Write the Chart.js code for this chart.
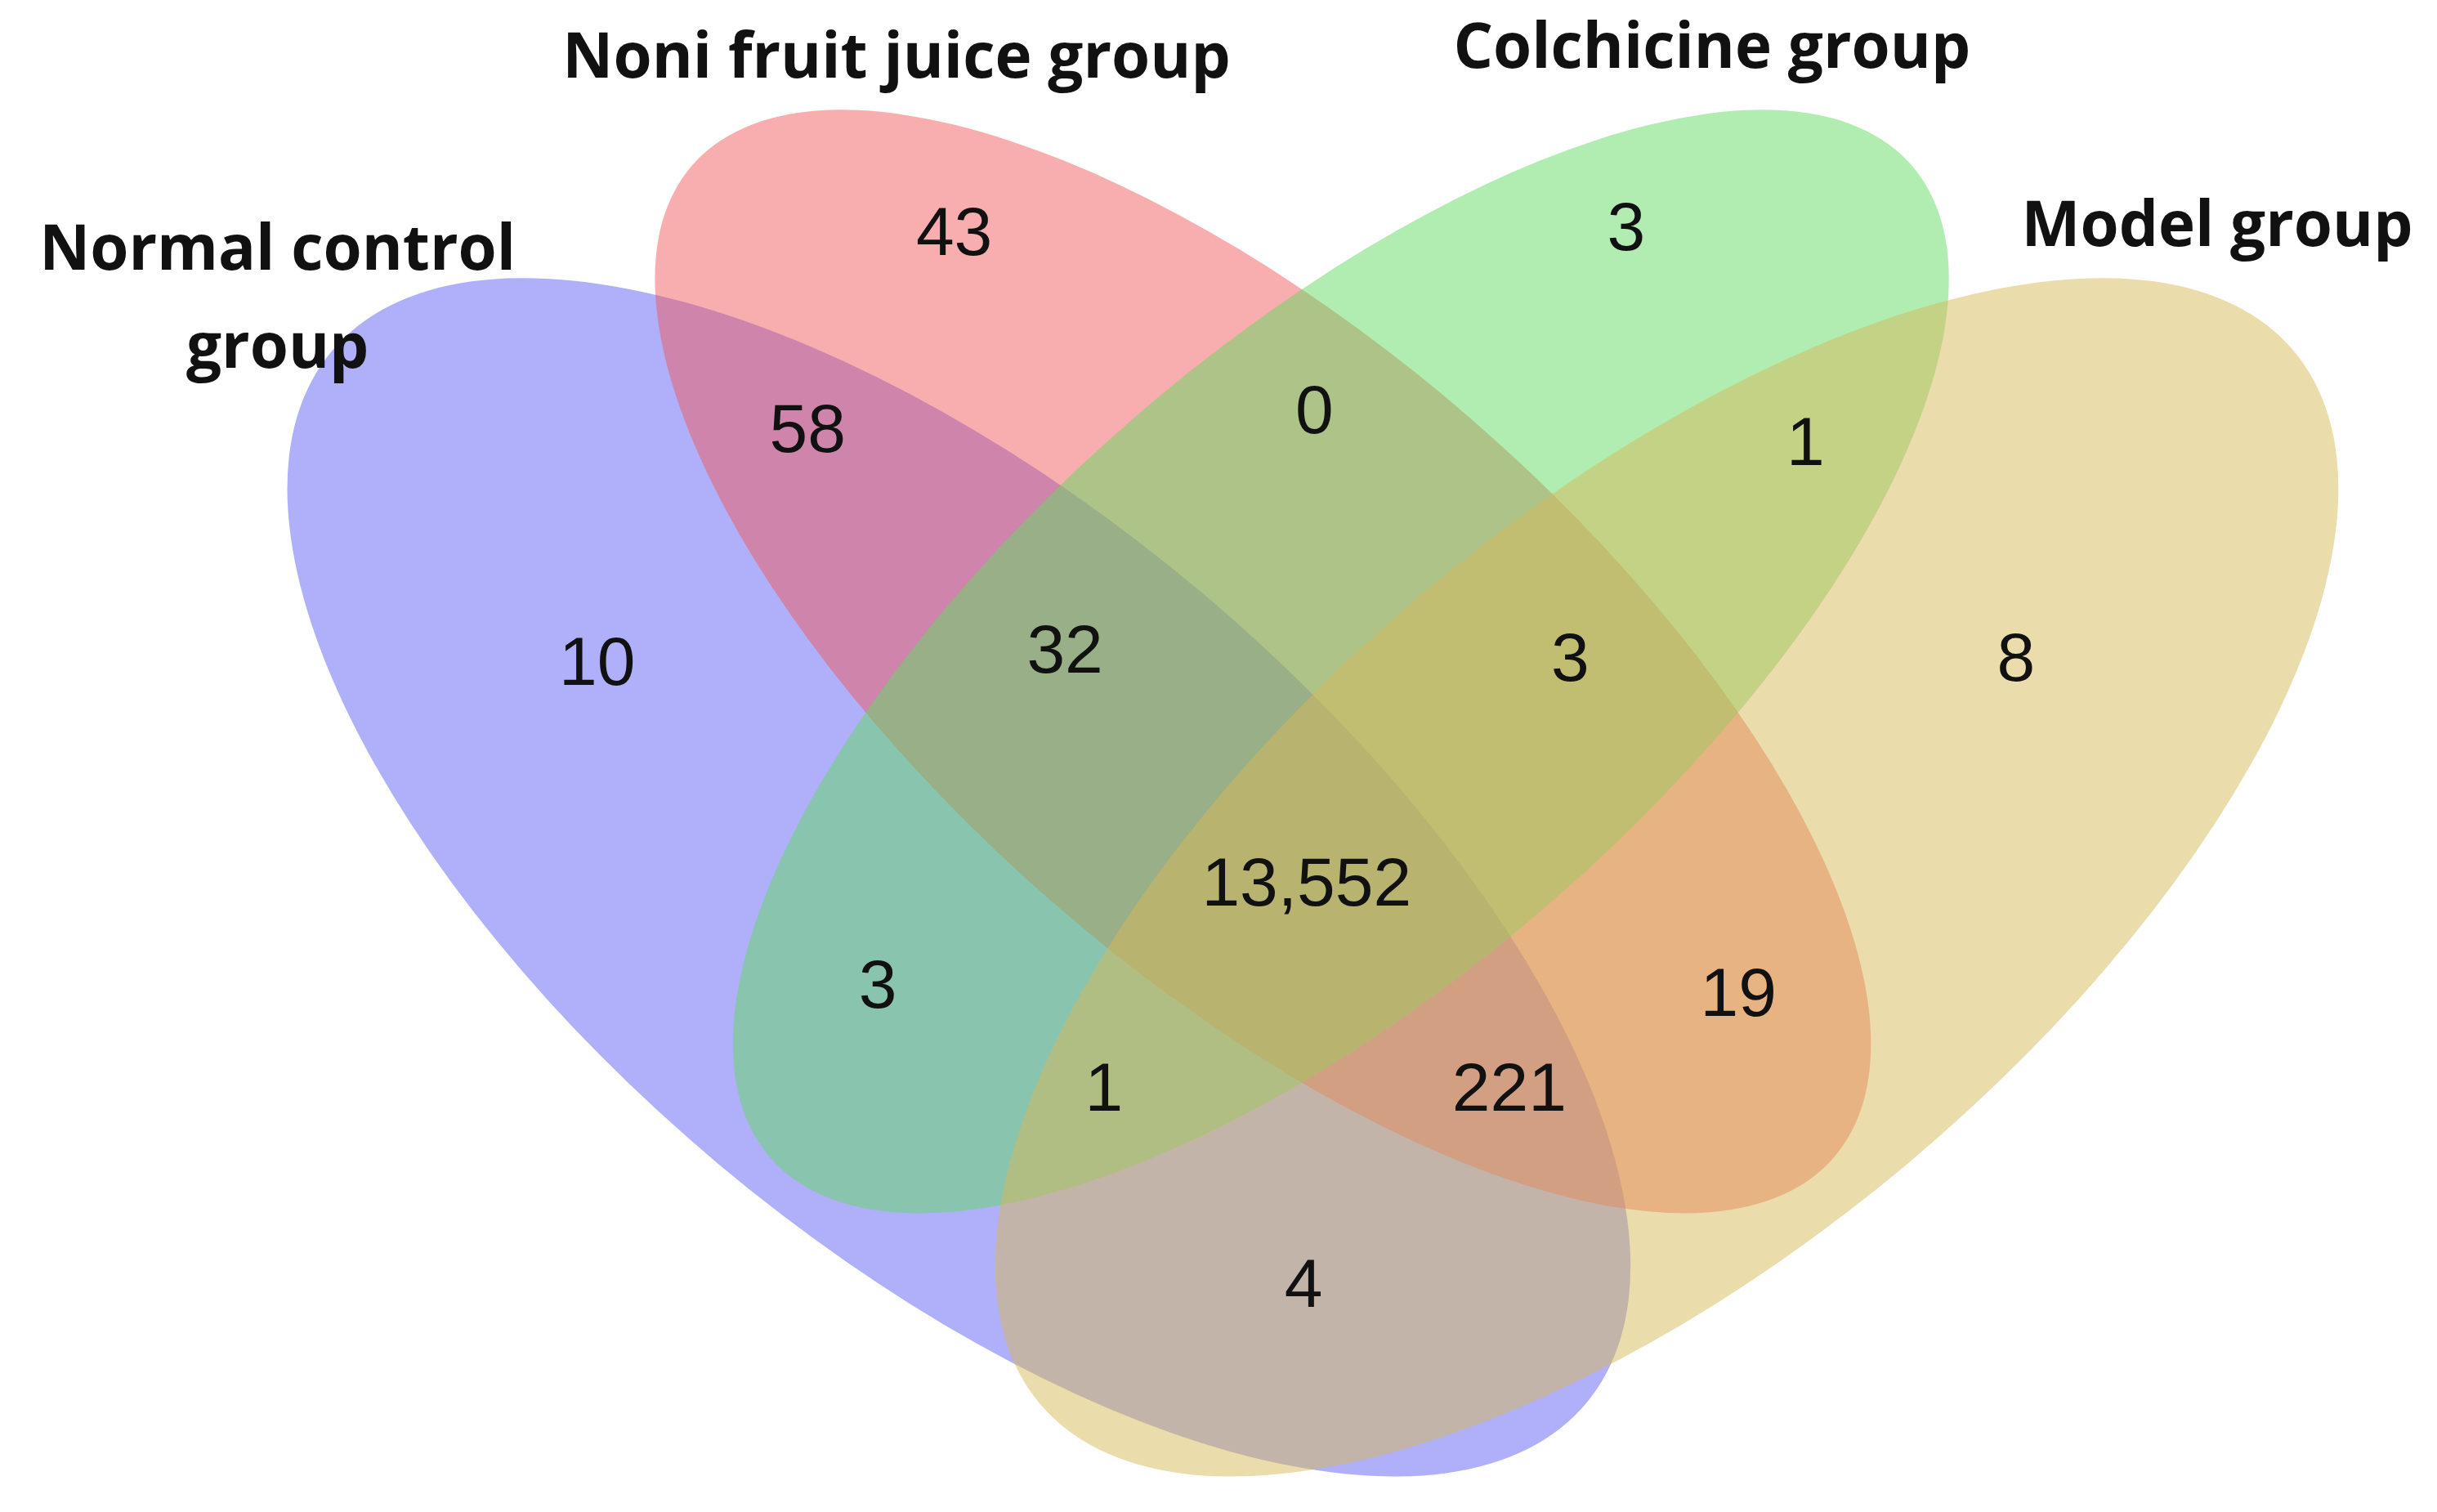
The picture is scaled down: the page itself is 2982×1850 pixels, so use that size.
<!DOCTYPE html>
<html><head><meta charset="utf-8">
<script src="https://cdn.jsdelivr.net/npm/chart.js@4"></script>
<style>html,body{margin:0;padding:0;background:#fff}#w{width:2982px;height:1850px}</style>
</head><body><div id="w"><canvas id="c"></canvas></div>
<script>
// Data
const setNames = ["Normal control\ngroup", "Noni fruit juice group", "Colchicine group", "Model group"];
const regionLabels = ["43","3","58","0","1","10","32","3","8","13,552","3","19","1","221","4"];
const regionCounts = [43,3,58,0,1,10,32,3,8,13552,3,19,1,221,4];
// Layout (in reference units)
const regionX = [612,1043,518,843,1158,383,683,1007,1293,838,563,1115,708,968,836];
const regionY = [150,147,275,263,283,423,415,420,420,563,628,633,693,693,818];
const setLabelX = [178,575,1098,1422];
const setLabelY = [160,38,32,145];
const ellCx = [615,810,860,1069];
const ellCy = [557,420,420,557];
const ellRx = [525,485,485,525];
const ellRy = [240,205,205,240];
const ellRot = [40,41,-41,-40];
const ellColor = ["rgba(98,98,245,0.5)","rgba(241,85,85,0.48)","rgba(100,218,100,0.5)","rgba(215,186,90,0.5)"];
const S = 2982/1563;

const venn = {
  id:'venn',
  beforeDatasetsDraw(chart){
    const {ctx, scales:{x,y}} = chart;
    for(let i=0;i<4;i++){
      const cx=x.getPixelForValue(ellCx[i]), cy=y.getPixelForValue(ellCy[i]);
      const rx=Math.abs(x.getPixelForValue(ellCx[i]+ellRx[i])-cx);
      const ry=Math.abs(x.getPixelForValue(ellCx[i]+ellRy[i])-cx);
      ctx.save();ctx.beginPath();
      ctx.ellipse(cx,cy,rx,ry,ellRot[i]*Math.PI/180,0,2*Math.PI);
      ctx.fillStyle=ellColor[i];ctx.fill();ctx.restore();
    }
    ctx.save();ctx.fillStyle='#111';ctx.textAlign='center';ctx.textBaseline='middle';
    ctx.font=(44*S)+'px "Liberation Sans", Arial, sans-serif';
    regionLabels.forEach((t,i)=>ctx.fillText(t,x.getPixelForValue(regionX[i]),y.getPixelForValue(regionY[i])));
    ctx.font='bold '+(40*S)+'px "Open Sans", "Liberation Sans", sans-serif';
    setNames.forEach((t,i)=>{
      t.split('\n').forEach((ln,j)=>ctx.fillText(ln,x.getPixelForValue(setLabelX[i]),y.getPixelForValue(setLabelY[i]+j*62)));
    });
    ctx.restore();
  }
};
new Chart(document.getElementById('c'),{
  type:'scatter',
  data:{datasets:[{data:[],pointRadius:0}]},
  options:{responsive:true,maintainAspectRatio:false,animation:false,devicePixelRatio:1,
    layout:{padding:0},
    plugins:{legend:{display:false},tooltip:{enabled:false}},
    scales:{x:{type:'linear',min:0,max:1563,display:false},y:{type:'linear',min:0,max:960,reverse:true,display:false}}},
  plugins:[venn]
});
</script></body></html>
